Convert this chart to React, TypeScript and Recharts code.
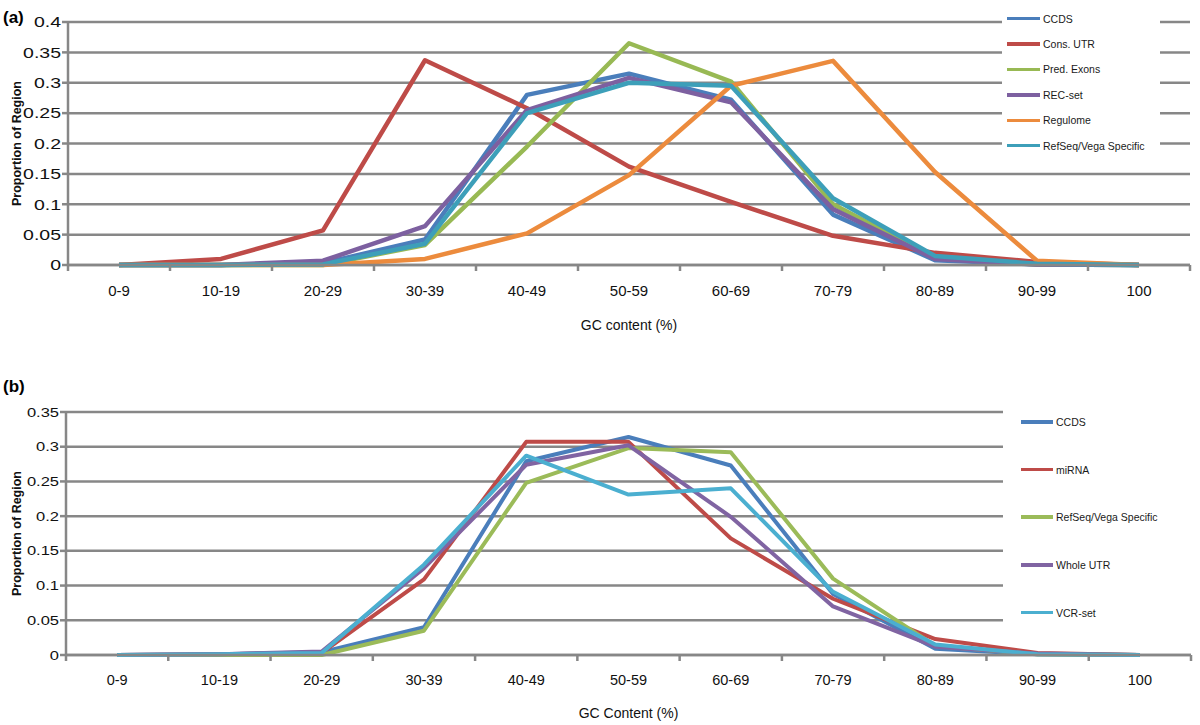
import React from "react";
import { LineChart, Line, XAxis, YAxis, CartesianGrid, Legend } from "recharts";

const categories = ["0-9", "10-19", "20-29", "30-39", "40-49", "50-59", "60-69", "70-79", "80-89", "90-99", "100"];

// panel (a)
const ccdsA = [0, 0, 0.003, 0.042, 0.28, 0.315, 0.272, 0.083, 0.008, 0.001, 0];
const consUtr = [0, 0.01, 0.057, 0.337, 0.258, 0.162, 0.104, 0.048, 0.02, 0.005, 0];
const predExons = [0, 0, 0, 0.033, 0.195, 0.365, 0.302, 0.1, 0.012, 0.001, 0];
const recSet = [0, 0, 0.007, 0.064, 0.255, 0.308, 0.268, 0.092, 0.01, 0.001, 0];
const regulome = [0, 0, 0, 0.01, 0.052, 0.148, 0.295, 0.336, 0.153, 0.007, 0];
const refSeqA = [0, 0, 0.001, 0.035, 0.25, 0.3, 0.295, 0.11, 0.015, 0.002, 0];
const yTicksA = [0, 0.05, 0.1, 0.15, 0.2, 0.25, 0.3, 0.35, 0.4];

// panel (b)
const ccdsB = [0, 0.001, 0.004, 0.04, 0.279, 0.314, 0.273, 0.088, 0.009, 0.001, 0];
const mirna = [0, 0.001, 0.003, 0.109, 0.307, 0.307, 0.168, 0.081, 0.023, 0.003, 0];
const refSeqB = [0, 0, 0, 0.035, 0.248, 0.298, 0.292, 0.11, 0.013, 0.001, 0];
const wholeUtr = [0, 0.001, 0.005, 0.125, 0.274, 0.302, 0.199, 0.07, 0.012, 0.002, 0];
const vcrSet = [0, 0.001, 0.003, 0.13, 0.287, 0.231, 0.24, 0.091, 0.015, 0.001, 0];
const yTicksB = [0, 0.05, 0.1, 0.15, 0.2, 0.25, 0.3, 0.35];

const GRID = "#878787";
const FONT = '"Liberation Sans", Arial, Helvetica, sans-serif';
const X_GAP = 20;

type Series = { key: string; name: string; color: string; values: number[] };

const seriesA: Series[] = [
    { key: "ccds", name: "CCDS", color: "#4a7ebb", values: ccdsA },
    { key: "consUtr", name: "Cons. UTR", color: "#be4b48", values: consUtr },
    { key: "predExons", name: "Pred. Exons", color: "#98b954", values: predExons },
    { key: "recSet", name: "REC-set", color: "#7d60a0", values: recSet },
    { key: "regulome", name: "Regulome", color: "#ec8b3d", values: regulome },
    { key: "refSeq", name: "RefSeq/Vega Specific", color: "#3d9fb9", values: refSeqA },
];

const seriesB: Series[] = [
    { key: "ccds", name: "CCDS", color: "#4a7ebb", values: ccdsB },
    { key: "mirna", name: "miRNA", color: "#be4b48", values: mirna },
    { key: "refSeq", name: "RefSeq/Vega Specific", color: "#9bbb59", values: refSeqB },
    { key: "wholeUtr", name: "Whole UTR", color: "#8064a2", values: wholeUtr },
    { key: "vcrSet", name: "VCR-set", color: "#4bafd0", values: vcrSet },
];

const buildRows = (series: Series[]) =>
    categories.map((gc, i) => {
        const row: any = { gc };
        series.forEach(s => { row[s.key] = s.values[i]; });
        return row;
    });

// category label + tick marks between the bands (Excel style)
const GcTick = (props: any) => {
    const { x, y, payload, index, fs } = props;
    const half = payload.offset ?? 51;
    const axisY = y - X_GAP;
    return (
        <g>
            <line x1={x - half} x2={x - half} y1={axisY} y2={axisY + 6} stroke={GRID} strokeWidth={2.5} />
            {index === categories.length - 1 && (
                <line x1={x + half} x2={x + half} y1={axisY} y2={axisY + 6} stroke={GRID} strokeWidth={2.5} />
            )}
            <text x={x} y={y} dy="0.71em" textAnchor="middle" fontSize={fs} fill="#111">{payload.value}</text>
        </g>
    );
};

const ProportionTick = (props: any) => {
    const { x, y, payload, fs, sx } = props;
    return (
        <text x={x} y={y} dy="0.355em" textAnchor="end" fontSize={fs} fill="#111"
              transform={`translate(${x} 0) scale(${sx} 1) translate(${-x} 0)`}>
            {payload.value}
        </text>
    );
};

const makeLegend = (series: Series[], rowH: number, padLeft: number, lineW: number) => () => (
    <div>
        {series.map(s => (
            <div key={s.key} style={{ display: "flex", alignItems: "center", height: rowH, paddingLeft: padLeft }}>
                <span style={{ display: "inline-block", width: lineW, height: 3.5, background: s.color }} />
                <span style={{ marginLeft: 3, fontSize: 10.5, color: "#1a1a1a", whiteSpace: "nowrap" }}>{s.name}</span>
            </div>
        ))}
    </div>
);

type PanelProps = {
    series: Series[];
    ticks: number[];
    max: number;
    height: number;
    axisWidth: number;
    right: number;
    xFont: number;
    yFont: number;
    yScale: number;
    xTitle: string;
    titleOffset: number;
    legendStyle: React.CSSProperties;
    legend: () => React.ReactElement;
    stroke: number;
};

function Panel(p: PanelProps) {
    return (
        <LineChart width={1200} height={p.height} data={buildRows(p.series)}
                   margin={{ top: 22, right: p.right, bottom: 0, left: 0 }}>
            <CartesianGrid vertical={false} stroke={GRID} strokeWidth={2.5} />
            <XAxis
                dataKey="gc"
                scale="band"
                interval={0}
                tickLine={false}
                tickSize={0}
                tickMargin={X_GAP}
                axisLine={{ stroke: GRID, strokeWidth: 2.5 }}
                height={p.height - 22 - 243}
                tick={(t: any) => <GcTick {...t} fs={p.xFont} />}
                label={{ value: p.xTitle, position: "insideBottom", offset: p.titleOffset, fontSize: 14, fill: "#111" }}
            />
            <YAxis
                width={p.axisWidth}
                domain={[0, p.max]}
                ticks={p.ticks}
                tickSize={6}
                tickMargin={1}
                tickLine={{ stroke: GRID, strokeWidth: 2.5 }}
                axisLine={{ stroke: GRID, strokeWidth: 2.5 }}
                tick={(t: any) => <ProportionTick {...t} fs={p.yFont} sx={p.yScale} />}
                label={{
                    value: "Proportion of Region", angle: -90, position: "insideLeft", offset: 17,
                    style: { textAnchor: "middle", fontWeight: "bold", fontSize: 12.5, fill: "#111" },
                }}
            />
            <Legend layout="vertical" align="center" verticalAlign="middle"
                    wrapperStyle={{ ...p.legendStyle, background: "#fff" }} content={p.legend} />
            {p.series.map(s => (
                <Line key={s.key} type="linear" dataKey={s.key} name={s.name} stroke={s.color}
                      strokeWidth={p.stroke} strokeLinejoin="round" dot={false} isAnimationActive={false} />
            ))}
        </LineChart>
    );
}

export default function App() {
    return (
        <div style={{ position: "absolute", left: 0, top: 0, width: 1200, height: 725, background: "#fff", fontFamily: FONT }}>
            <div style={{ position: "absolute", left: 0, top: 0 }}>
                <Panel
                    series={seriesA} ticks={yTicksA} max={0.4} height={345} axisWidth={68} right={10}
                    xFont={15} yFont={15} yScale={1.3} xTitle="GC content (%)" titleOffset={15}
                    legendStyle={{ left: 1002, top: 6, width: 158, height: 153 }}
                    legend={makeLegend(seriesA, 25.4, 5, 33)} stroke={4.5}
                />
            </div>
            <div style={{ position: "absolute", left: 0, top: 390 }}>
                <Panel
                    series={seriesB} ticks={yTicksB} max={0.35} height={335} axisWidth={66} right={9}
                    xFont={14.5} yFont={13} yScale={1.27} xTitle="GC Content (%)" titleOffset={7}
                    legendStyle={{ left: 1003, top: 8, width: 197, height: 239 }}
                    legend={makeLegend(seriesB, 47.7, 18, 32)} stroke={4}
                />
            </div>
            <div style={{ position: "absolute", left: 3, top: 8, fontSize: 17, fontWeight: "bold" }}>(a)</div>
            <div style={{ position: "absolute", left: 3, top: 377, fontSize: 17, fontWeight: "bold" }}>(b)</div>
        </div>
    );
}
